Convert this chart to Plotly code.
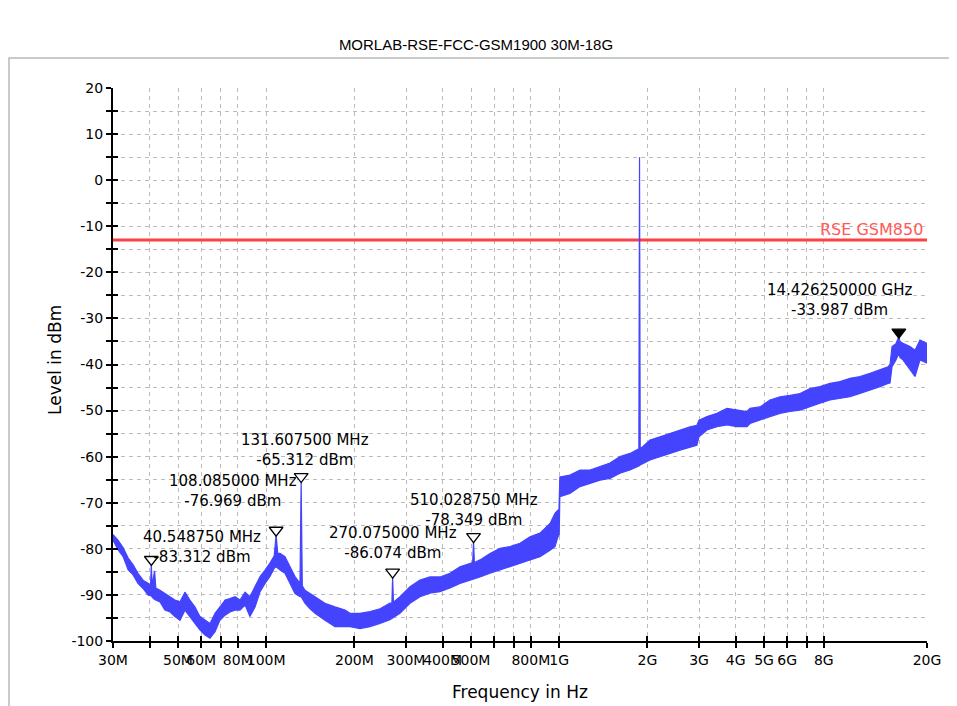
import plotly.graph_objects as go
import math

title_text = "MORLAB-RSE-FCC-GSM1900 30M-18G"

# Spectrum trace envelope (frequency in MHz, upper / lower edge of the noisy trace in dBm)
freq_mhz = [30.0, 31.2, 32.5, 33.8, 35.1, 36.5, 38.0, 39.5, 40.3, 40.54875, 40.8, 41.6, 42.0,
            43.4, 45.1, 47.0, 48.8, 50.8, 52.8, 54.9, 57.1, 59.4, 61.8, 64.3, 66.9, 69.5,
            72.4, 75.2, 78.3, 81.4, 84.7, 88.0, 91.6, 95.3, 99.1, 103.0, 106.5, 108.085,
            109.5, 111.5, 115.9, 120.6, 125.4, 130.4, 131.6075, 132.8, 135.6, 141.1, 146.8,
            158.7, 171.7, 185.8, 193.2, 209.0, 226.1, 244.6, 264.5, 268.5, 270.075, 271.8,
            286.2, 309.6, 334.9, 362.2, 391.9, 423.9, 458.6, 496.1, 506.5, 510.02875, 513.5,
            536.6, 580.6, 628.1, 679.3, 734.8, 795.0, 859.8, 930.4, 967.5, 990.0, 998.0,
            1000.0, 1005.0, 1088.0, 1177.7, 1274.0, 1378.0, 1490.8, 1612.6, 1744.4, 1870.0,
            1880.0, 1890.0, 2041.0, 2208.0, 2389.0, 2584.0, 2795.0, 2950.0, 3000.0, 3195.0,
            3455.0, 3738.0, 4044.0, 4374.0, 4480.0, 4845.0, 5241.0, 5670.0, 6134.0, 6635.0,
            7177.0, 7764.0, 8399.0, 9086.0, 9829.0, 10632.0, 11502.0, 12442.0, 13251.0,
            13461.0, 13675.0, 14100.0, 14426.25, 14560.0, 14904.0, 15750.0, 16383.0,
            17036.0, 18000.0]
level_hi = [-76.9, -78.1, -79.8, -82.0, -83.4, -85.3, -86.8, -87.5, -87.8, -83.312, -88.0, -84.8, -88.5,
            -89.0, -89.7, -90.4, -91.1, -91.5, -89.4, -91.1, -92.6, -94.7, -95.5, -96.2, -94.0, -92.6,
            -91.1, -90.8, -90.4, -91.1, -89.4, -90.4, -88.2, -86.0, -84.6, -83.1, -81.5, -76.969,
            -81.0, -81.0, -81.7, -83.9, -86.0, -87.5, -65.312, -88.0, -89.0, -89.7, -90.4,
            -91.8, -92.6, -93.3, -94.0, -94.0, -93.6, -93.0, -91.8, -91.8, -86.074, -91.6,
            -90.4, -88.2, -86.8, -86.1, -86.1, -85.3, -83.9, -83.1, -83.0, -78.349, -83.0,
            -82.4, -81.0, -79.9, -79.5, -78.8, -77.4, -76.6, -74.5, -72.3, -71.6, -71.6,
            -64.4, -64.4, -64.0, -62.9, -62.9, -62.2, -61.4, -60.0, -59.3, -58.3,
            5.0, -58.3, -56.4, -55.7, -55.0, -54.2, -53.5, -53.2, -52.1, -51.3,
            -50.6, -49.5, -49.9, -50.2, -49.5, -49.2, -47.7, -47.0, -46.7, -46.3,
            -45.2, -44.8, -44.1, -43.7, -43.0, -42.6, -41.9, -41.2, -40.5,
            -40.0, -36.1, -35.5, -33.987, -35.0, -35.4, -36.1, -36.9,
            -34.7, -35.4]
level_lo = [-78.1, -80.2, -81.7, -84.6, -85.6, -87.5, -88.6, -90.0, -90.2, -90.0, -90.5, -91.0, -91.2,
            -91.5, -93.3, -93.7, -94.7, -95.5, -93.3, -94.7, -96.2, -97.6, -98.7, -99.4, -98.0, -95.5,
            -94.4, -93.7, -93.3, -93.3, -92.2, -94.7, -92.6, -89.3, -87.5, -86.0, -84.2, -83.9,
            -84.2, -84.6, -85.3, -87.5, -89.7, -90.4, -90.4, -90.8, -91.8, -93.0, -94.0,
            -95.5, -96.9, -96.9, -96.9, -97.3, -96.9, -96.2, -95.4, -95.2, -95.0, -95.0,
            -94.0, -91.8, -90.4, -89.6, -89.3, -88.5, -87.5, -86.8, -86.5, -86.5, -86.4,
            -86.1, -85.3, -84.6, -83.9, -83.1, -82.4, -81.7, -80.3, -79.5, -77.4, -77.0,
            -77.0, -68.7, -68.0, -66.5, -65.8, -65.1, -64.7, -63.6, -62.9, -62.0,
            -62.0, -61.8, -60.7, -60.0, -59.3, -58.6, -57.9, -57.5, -55.7, -54.2,
            -53.5, -53.1, -53.5, -53.5, -52.8, -52.1, -51.3, -50.6, -50.2, -49.9,
            -49.2, -48.4, -47.7, -47.4, -47.0, -46.3, -45.6, -44.8, -44.1,
            -44.0, -40.5, -39.0, -37.6, -38.5, -39.0, -41.2, -42.6,
            -39.0, -39.7]

# Markers
marker_freq_mhz = [40.54875, 108.085, 131.6075, 270.075, 510.02875, 14426.25]
marker_level = [-83.312, -76.969, -65.312, -86.074, -78.349, -33.987]
marker_text = ["40.548750 MHz<br>-83.312 dBm", "108.085000 MHz<br>-76.969 dBm",
               "131.607500 MHz<br>-65.312 dBm", "270.075000 MHz<br>-86.074 dBm",
               "510.028750 MHz<br>-78.349 dBm", "14.426250000 GHz<br>-33.987 dBm"]
marker_filled = [False, False, False, False, False, True]

# Limit line
limit_freq_mhz = [30, 18000]
limit_level = [-13, -13]
limit_name = "RSE GSM850"

# Axes
x_tick_vals = [30, 40, 50, 60, 70, 80, 100, 200, 300, 400, 500, 600, 700, 800, 1000,
               2000, 3000, 4000, 5000, 6000, 7000, 8000, 18000]
x_tick_text = ["30M", "", "50M", "60M", "", "80M", "100M", "200M", "300M", "400M", "500M",
               "", "", "800M", "1G", "2G", "3G", "4G", "5G", "6G", "", "8G", "20G"]
y_tick_vals = [-100, -95, -90, -85, -80, -75, -70, -65, -60, -55, -50, -45, -40, -35,
               -30, -25, -20, -15, -10, -5, 0, 5, 10, 15, 20]
y_tick_text = ["-100", "", "-90", "", "-80", "", "-70", "", "-60", "", "-50", "", "-40", "",
               "-30", "", "-20", "", "-10", "", "0", "", "10", "", "20"]
x_title = "Frequency in Hz"
y_title = "Level in dBm"

x_range = [30, 18000]
y_range = [-100, 20]

FONT = "DejaVu Sans"
BLUE = "#4444ff"
RED = "#ff4040"
GRID = "#bcbcbc"

# page body has an 8px margin: figure is sized so the plot area lands at x 113..927, y 88..641
FIG_W, FIG_H = 949, 698
M_L, M_R, M_T, M_B = 105, 30, 80, 65
PW, PH = FIG_W - M_L - M_R, FIG_H - M_T - M_B   # 814 x 553


def px_x(page_x):
    return (page_x - 8 - M_L) / PW


def px_y(page_y):
    return (FIG_H - M_B - (page_y - 8)) / PH


fig = go.Figure()

fig.add_trace(go.Scatter(x=limit_freq_mhz, y=limit_level, mode="lines",
                         line=dict(color=RED, width=3), hoverinfo="skip", showlegend=False))

fig.add_trace(go.Scatter(x=freq_mhz + freq_mhz[::-1], y=level_hi + level_lo[::-1],
                         mode="lines", fill="toself", fillcolor=BLUE,
                         line=dict(color=BLUE, width=1.2), hoverinfo="skip", showlegend=False))

fig.add_trace(go.Scatter(x=marker_freq_mhz, y=marker_level, mode="markers",
                         xaxis="x", yaxis="y3",
                         marker=dict(symbol="triangle-down", size=12,
                                     color=["black" if f else "white" for f in marker_filled],
                                     line=dict(color="black", width=1.3)),
                         hoverinfo="skip", showlegend=False))

fig.add_trace(go.Scatter(x=[None], y=[None], xaxis="x2", yaxis="y2", mode="lines",
                         hoverinfo="skip", showlegend=False))

common_x = dict(type="log", range=[math.log10(x_range[0]), math.log10(x_range[1])],
                tickmode="array", tickvals=x_tick_vals, ticktext=x_tick_text)
common_y = dict(range=y_range, tickmode="array", tickvals=y_tick_vals, ticktext=y_tick_text)

fig.update_layout(
    width=FIG_W, height=FIG_H,
    margin=dict(l=M_L, r=M_R, t=M_T, b=M_B),
    paper_bgcolor="white", plot_bgcolor="white",
    title=dict(text=title_text, x=(476 - 8) / FIG_W, xanchor="center", y=1 - 37 / FIG_H,
               yanchor="middle",
               font=dict(family="Liberation Sans Narrow, Liberation Sans, Arial", size=15, color="black")),
    xaxis=dict(**common_x, tickangle=0, showline=True, linecolor="black", linewidth=2,
               ticks="outside", ticklen=5, tickwidth=2, tickcolor="black",
               showgrid=True, gridcolor=GRID, gridwidth=1, griddash="4px,4px",
               tickfont=dict(family=FONT, size=14, color="black"), zeroline=False),
    yaxis=dict(**common_y, showline=True, linecolor="black", linewidth=2,
               ticks="outside", ticklen=5, tickwidth=2, tickcolor="black",
               showgrid=True, gridcolor=GRID, gridwidth=1, griddash="4px,4px",
               tickfont=dict(family=FONT, size=14, color="black"), zeroline=False),
    xaxis2=dict(**common_x, overlaying="x", anchor="y2", side="bottom", tickangle=0,
                ticks="inside", ticklen=5, tickwidth=2, tickcolor="black",
                showticklabels=False, showgrid=False, showline=False, zeroline=False),
    yaxis2=dict(**common_y, overlaying="y", anchor="x2", side="left",
                ticks="inside", ticklen=5, tickwidth=2, tickcolor="black",
                showticklabels=False, showgrid=False, showline=False, zeroline=False),
    yaxis3=dict(range=[y_range[0] - 1.0, y_range[1] - 1.0], overlaying="y", anchor="x",
                visible=False),
)

annotations = []
annotations.append(dict(text=y_title, xref="paper", yref="paper", x=px_x(55),
                        y=px_y(360), textangle=-90, showarrow=False,
                        xanchor="center", yanchor="middle",
                        font=dict(family=FONT, size=17, color="black")))
annotations.append(dict(text=x_title, xref="paper", yref="paper", x=px_x(520),
                        y=px_y(692), showarrow=False,
                        xanchor="center", yanchor="middle",
                        font=dict(family=FONT, size=17, color="black")))
annotations.append(dict(text=limit_name, x=math.log10(limit_freq_mhz[-1]), y=limit_level[-1],
                        xref="x", yref="y", showarrow=False, xanchor="right", yanchor="bottom",
                        xshift=-2, yshift=-1, font=dict(family=FONT, size=16, color="#ff5a5a")))
label_shift = [(51, 17), (-43, 44), (4, 31), (0, 34), (0, 31), (-59, 37)]
for f, lv, t, (dx, dy) in zip(marker_freq_mhz, marker_level, marker_text, label_shift):
    annotations.append(dict(text=t, x=math.log10(f), y=lv, xref="x", yref="y",
                            showarrow=False, xanchor="center", yanchor="middle",
                            xshift=dx, yshift=dy, align="center",
                            font=dict(family=FONT, size=15, color="black")))
fig.update_layout(annotations=annotations)

fig.add_shape(type="rect", xref="paper", yref="paper",
              x0=px_x(9), x1=px_x(951), y0=px_y(760), y1=px_y(58),
              line=dict(color="#b4bcb4", width=1.5), fillcolor="rgba(0,0,0,0)", layer="below")

fig.write_html("out.html")
